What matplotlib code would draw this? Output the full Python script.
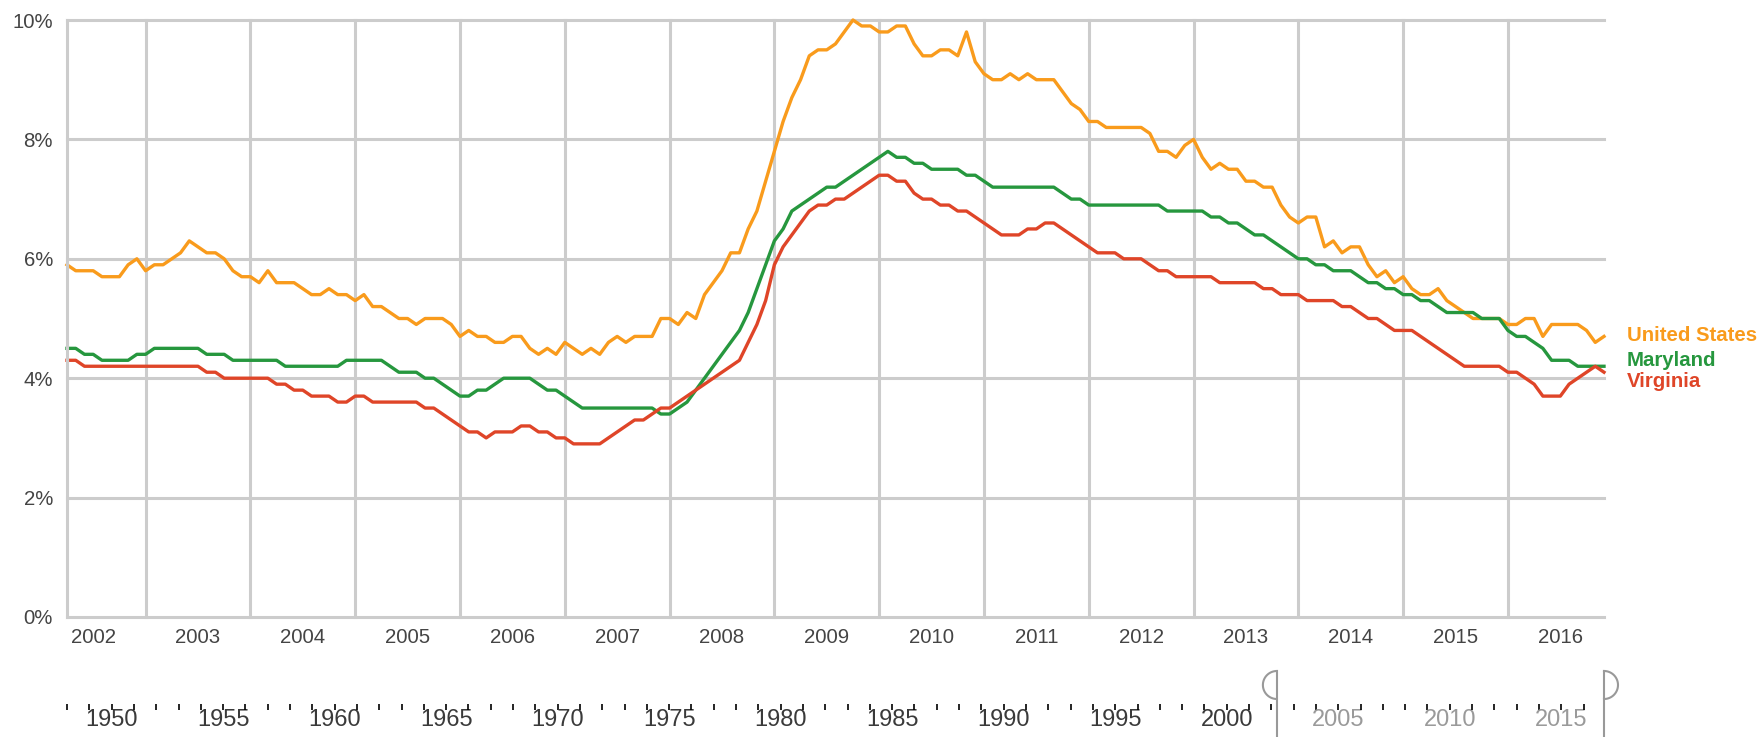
import numpy as np
import pandas as pd
import matplotlib
matplotlib.use("Agg")
import matplotlib.pyplot as plt

plt.rcParams['font.family'] = ['Liberation Sans', 'DejaVu Sans']

# monthly data, Apr 2002 .. Dec 2016
start_month = "2002-04"
end_month = "2016-12"

us_rate = [
    5.9, 5.8, 5.8, 5.8, 5.7, 5.7, 5.7, 5.9, 6.0,                 # 2002 (Apr-Dec)
    5.8, 5.9, 5.9, 6.0, 6.1, 6.3, 6.2, 6.1, 6.1, 6.0, 5.8, 5.7,  # 2003
    5.7, 5.6, 5.8, 5.6, 5.6, 5.6, 5.5, 5.4, 5.4, 5.5, 5.4, 5.4,  # 2004
    5.3, 5.4, 5.2, 5.2, 5.1, 5.0, 5.0, 4.9, 5.0, 5.0, 5.0, 4.9,  # 2005
    4.7, 4.8, 4.7, 4.7, 4.6, 4.6, 4.7, 4.7, 4.5, 4.4, 4.5, 4.4,  # 2006
    4.6, 4.5, 4.4, 4.5, 4.4, 4.6, 4.7, 4.6, 4.7, 4.7, 4.7, 5.0,  # 2007
    5.0, 4.9, 5.1, 5.0, 5.4, 5.6, 5.8, 6.1, 6.1, 6.5, 6.8, 7.3,  # 2008
    7.8, 8.3, 8.7, 9.0, 9.4, 9.5, 9.5, 9.6, 9.8, 10.0, 9.9, 9.9, # 2009
    9.8, 9.8, 9.9, 9.9, 9.6, 9.4, 9.4, 9.5, 9.5, 9.4, 9.8, 9.3,  # 2010
    9.1, 9.0, 9.0, 9.1, 9.0, 9.1, 9.0, 9.0, 9.0, 8.8, 8.6, 8.5,  # 2011
    8.3, 8.3, 8.2, 8.2, 8.2, 8.2, 8.2, 8.1, 7.8, 7.8, 7.7, 7.9,  # 2012
    8.0, 7.7, 7.5, 7.6, 7.5, 7.5, 7.3, 7.3, 7.2, 7.2, 6.9, 6.7,  # 2013
    6.6, 6.7, 6.7, 6.2, 6.3, 6.1, 6.2, 6.2, 5.9, 5.7, 5.8, 5.6,  # 2014
    5.7, 5.5, 5.4, 5.4, 5.5, 5.3, 5.2, 5.1, 5.0, 5.0, 5.0, 5.0,  # 2015
    4.9, 4.9, 5.0, 5.0, 4.7, 4.9, 4.9, 4.9, 4.9, 4.8, 4.6, 4.7,  # 2016
]

md_rate = [
    4.5, 4.5, 4.4, 4.4, 4.3, 4.3, 4.3, 4.3, 4.4,
    4.4, 4.5, 4.5, 4.5, 4.5, 4.5, 4.5, 4.4, 4.4, 4.4, 4.3, 4.3,
    4.3, 4.3, 4.3, 4.3, 4.2, 4.2, 4.2, 4.2, 4.2, 4.2, 4.2, 4.3,
    4.3, 4.3, 4.3, 4.3, 4.2, 4.1, 4.1, 4.1, 4.0, 4.0, 3.9, 3.8,
    3.7, 3.7, 3.8, 3.8, 3.9, 4.0, 4.0, 4.0, 4.0, 3.9, 3.8, 3.8,
    3.7, 3.6, 3.5, 3.5, 3.5, 3.5, 3.5, 3.5, 3.5, 3.5, 3.5, 3.4,
    3.4, 3.5, 3.6, 3.8, 4.0, 4.2, 4.4, 4.6, 4.8, 5.1, 5.5, 5.9,
    6.3, 6.5, 6.8, 6.9, 7.0, 7.1, 7.2, 7.2, 7.3, 7.4, 7.5, 7.6,
    7.7, 7.8, 7.7, 7.7, 7.6, 7.6, 7.5, 7.5, 7.5, 7.5, 7.4, 7.4,
    7.3, 7.2, 7.2, 7.2, 7.2, 7.2, 7.2, 7.2, 7.2, 7.1, 7.0, 7.0,
    6.9, 6.9, 6.9, 6.9, 6.9, 6.9, 6.9, 6.9, 6.9, 6.8, 6.8, 6.8,
    6.8, 6.8, 6.7, 6.7, 6.6, 6.6, 6.5, 6.4, 6.4, 6.3, 6.2, 6.1,
    6.0, 6.0, 5.9, 5.9, 5.8, 5.8, 5.8, 5.7, 5.6, 5.6, 5.5, 5.5,
    5.4, 5.4, 5.3, 5.3, 5.2, 5.1, 5.1, 5.1, 5.1, 5.0, 5.0, 5.0,
    4.8, 4.7, 4.7, 4.6, 4.5, 4.3, 4.3, 4.3, 4.2, 4.2, 4.2, 4.2,
]

va_rate = [
    4.3, 4.3, 4.2, 4.2, 4.2, 4.2, 4.2, 4.2, 4.2,
    4.2, 4.2, 4.2, 4.2, 4.2, 4.2, 4.2, 4.1, 4.1, 4.0, 4.0, 4.0,
    4.0, 4.0, 4.0, 3.9, 3.9, 3.8, 3.8, 3.7, 3.7, 3.7, 3.6, 3.6,
    3.7, 3.7, 3.6, 3.6, 3.6, 3.6, 3.6, 3.6, 3.5, 3.5, 3.4, 3.3,
    3.2, 3.1, 3.1, 3.0, 3.1, 3.1, 3.1, 3.2, 3.2, 3.1, 3.1, 3.0,
    3.0, 2.9, 2.9, 2.9, 2.9, 3.0, 3.1, 3.2, 3.3, 3.3, 3.4, 3.5,
    3.5, 3.6, 3.7, 3.8, 3.9, 4.0, 4.1, 4.2, 4.3, 4.6, 4.9, 5.3,
    5.9, 6.2, 6.4, 6.6, 6.8, 6.9, 6.9, 7.0, 7.0, 7.1, 7.2, 7.3,
    7.4, 7.4, 7.3, 7.3, 7.1, 7.0, 7.0, 6.9, 6.9, 6.8, 6.8, 6.7,
    6.6, 6.5, 6.4, 6.4, 6.4, 6.5, 6.5, 6.6, 6.6, 6.5, 6.4, 6.3,
    6.2, 6.1, 6.1, 6.1, 6.0, 6.0, 6.0, 5.9, 5.8, 5.8, 5.7, 5.7,
    5.7, 5.7, 5.7, 5.6, 5.6, 5.6, 5.6, 5.6, 5.5, 5.5, 5.4, 5.4,
    5.4, 5.3, 5.3, 5.3, 5.3, 5.2, 5.2, 5.1, 5.0, 5.0, 4.9, 4.8,
    4.8, 4.8, 4.7, 4.6, 4.5, 4.4, 4.3, 4.2, 4.2, 4.2, 4.2, 4.2,
    4.1, 4.1, 4.0, 3.9, 3.7, 3.7, 3.7, 3.9, 4.0, 4.1, 4.2, 4.1,
]

series_names = ["United States", "Maryland", "Virginia"]
series_colors = ["#f99b1c", "#26973e", "#df4528"]
label_offsets = [0.3, 4.5, -7.0]  # vertical nudge (pt) of end labels

y_ticks = [0, 2, 4, 6, 8, 10]
year_labels = list(range(2002, 2017))
nav_years = list(range(1948, 2017))

months = pd.period_range(start_month, end_month, freq="M")
t = np.asarray(months.year + (months.month - 1) / 12.0)

W, H = 1763, 737
fig = plt.figure(figsize=(W / 100, H / 100), dpi=100)

# main chart
ax = fig.add_axes([67 / W, 1 - 617 / H, (1604 - 67) / W, (617 - 20) / H])
ax.set_xlim(t[0], t[-1])
ax.set_ylim(0, 10)
ax.set_axisbelow(True)

ax.set_yticks(y_ticks, [f"{v}%" for v in y_ticks])
ax.set_xticks(year_labels[1:], [""] * (len(year_labels) - 1))
ax.set_xticks([y + 0.5 for y in year_labels], [str(y) for y in year_labels], minor=True)
ax.tick_params(which="both", length=0, colors="#444444")
ax.tick_params(axis="y", labelsize=14.7, pad=10)
ax.tick_params(axis="x", which="minor", labelsize=14.7, pad=8)
ax.grid(True, which="major", color="#cccccc", lw=2.2)
for gl in ax.get_xgridlines() + ax.get_ygridlines():
    gl.set_clip_on(False)
for s in ["top", "right", "bottom"]:
    ax.spines[s].set_visible(False)
ax.spines["left"].set_color("#cccccc")
ax.spines["left"].set_linewidth(2.2)

for vals, name, col, dy in zip([us_rate, md_rate, va_rate], series_names, series_colors, label_offsets):
    ax.plot(t, vals, color=col, lw=2.4, clip_on=False, solid_joinstyle="round")
    ax.annotate(name, xy=(t[-1], vals[-1]), xytext=(16.5, dy), textcoords="offset points",
                color=col, fontsize=14.7, fontweight="bold", va="center", ha="left",
                annotation_clip=False)

# time navigator at the bottom
nav = fig.add_axes([67 / W, 0, (1604 - 67) / W, 72 / H])
nav.set_xlim(nav_years[0], t[-1])
nav.set_ylim(0, 1)
nav.set_yticks([])
for s in ["top", "right", "left"]:
    nav.spines[s].set_visible(False)
nav.spines["bottom"].set_position(("axes", 27 / 72))
nav.spines["bottom"].set_color("none")
nav.set_xticks(nav_years, [str(y) if y % 5 == 0 else "" for y in nav_years])
nav.tick_params(axis="x", direction="in", length=4.5, width=1.2, pad=-1)
for tk, y in zip(nav.xaxis.get_major_ticks(), nav_years):
    c = "#3a3a3a" if y < t[0] else "#9a9a9a"
    tk.tick1line.set_color(c)
    tk.label1.set_color(c)
    tk.label1.set_fontfamily(["Liberation Sans Narrow", "Liberation Sans"])
    tk.label1.set_fontsize(17)

# range handles
tr = nav.get_xaxis_transform()
rx, ry, cy = 14 / 22.3, 14 / 72, 52 / 72
for hx, side in [(t[0], -1), (t[-1], 1)]:
    nav.plot([hx, hx], [0, 66 / 72], color="#999999", lw=1.5, transform=tr, clip_on=False)
    th = np.linspace(-np.pi / 2, np.pi / 2, 40)
    nav.plot(hx + side * rx * np.cos(th), cy + ry * np.sin(th), color="#999999", lw=1.5,
             transform=tr, clip_on=False)

fig.savefig("out.png", dpi=100)
